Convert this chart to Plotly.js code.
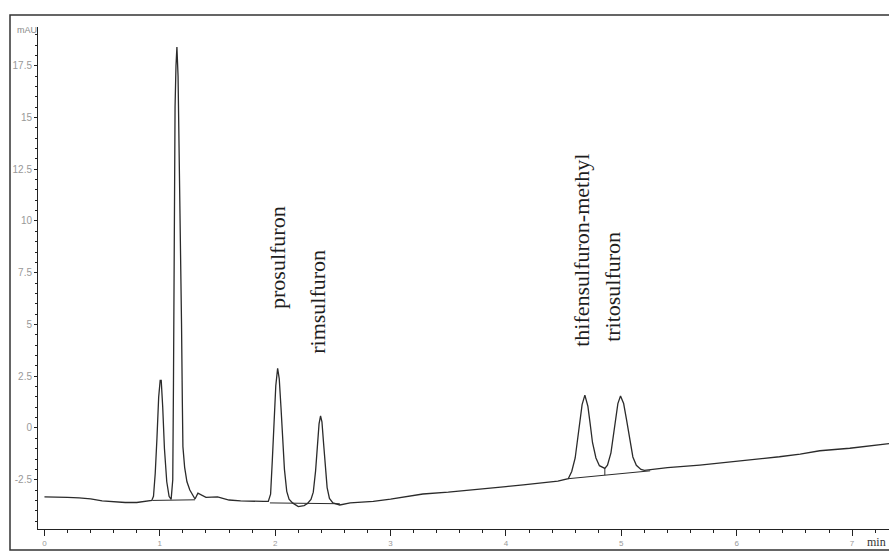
<!DOCTYPE html>
<html>
<head>
<meta charset="utf-8">
<script src="https://cdn.plot.ly/plotly-3.0.1.min.js"></script>
<style>html,body{margin:0;padding:0;background:#fff;}#chart{width:889px;height:552px;}</style>
</head>
<body>
<div id="chart"></div>
<script>
// Retention time (min) and detector signal (mAU)
const retentionTime = [
  0.00,0.10,0.20,0.30,0.40,0.50,0.60,0.70,0.80,0.90,
  0.930,0.945,0.960,0.975,0.990,1.003,1.012,1.025,1.040,1.060,1.080,1.098,
  1.112,1.118,1.125,1.132,1.140,1.148,1.158,1.168,1.180,1.188,1.195,1.200,
  1.215,1.235,1.260,1.290,1.305,1.330,1.360,1.400,1.500,1.600,1.700,1.800,1.900,
  1.940,1.960,1.975,1.990,2.005,2.021,2.035,2.050,2.065,2.080,2.100,2.120,2.150,
  2.200,2.250,2.280,2.310,2.330,2.350,2.365,2.380,2.393,2.405,2.420,2.435,2.450,2.470,2.500,
  2.560,2.650,2.750,2.850,3.000,3.150,3.280,3.500,3.710,3.850,4.000,4.150,4.290,4.450,
  4.540,4.570,4.600,4.620,4.640,4.660,4.684,4.710,4.730,4.750,4.780,4.810,4.857,
  4.880,4.910,4.930,4.950,4.970,4.993,5.020,5.045,5.070,5.100,5.130,5.170,5.200,
  5.300,5.400,5.680,6.110,6.370,6.550,6.720,6.980,7.240,7.320
];
const absorbance = [
  -3.33,-3.33,-3.35,-3.38,-3.42,-3.52,-3.57,-3.60,-3.60,-3.53,
  -3.50,-3.30,-2.20,-0.50,1.50,2.30,2.30,1.00,-1.00,-2.60,-3.30,-3.45,
  -2.50,2.00,10.6,15.5,17.5,18.4,17.0,13.6,8.5,5.0,1.3,-0.9,
  -1.9,-2.6,-3.0,-3.3,-3.43,-3.15,-3.25,-3.35,-3.33,-3.48,-3.52,-3.55,-3.55,
  -3.55,-3.20,-1.56,0.24,2.04,2.88,2.38,1.00,-0.66,-2.00,-3.06,-3.44,-3.62,
  -3.80,-3.75,-3.65,-3.45,-3.10,-2.07,-0.87,0.20,0.58,0.30,-0.80,-2.00,-2.88,-3.40,-3.62,
  -3.72,-3.62,-3.58,-3.55,-3.44,-3.30,-3.19,-3.10,-3.00,-2.92,-2.83,-2.75,-2.67,-2.57,
  -2.45,-2.10,-1.45,-0.66,0.30,1.13,1.59,1.05,0.20,-0.70,-1.45,-1.82,-1.95,
  -1.80,-1.20,-0.48,0.40,1.18,1.55,1.18,0.40,-0.52,-1.40,-1.80,-2.00,-2.05,
  -1.98,-1.92,-1.79,-1.55,-1.39,-1.26,-1.10,-0.98,-0.82,-0.76
];
// Integration baselines drawn under the peaks
const baselineTime = [0.935,1.305,null,1.954,2.560,null,4.540,5.250,null,4.857,4.857];
const baselineSignal = [-3.50,-3.47,null,-3.62,-3.66,null,-2.45,-2.07,null,-1.95,-2.28];
// Peak labels
const compoundNames = ["prosulfuron","rimsulfuron","thifensulfuron-methyl","tritosulfuron"];
const labelTimes = [2.024,2.370,4.658,4.918];
const labelSignals = [8.26,6.09,8.60,6.81];
const yTickValues = [-2.5,0,2.5,5,7.5,10,12.5,15,17.5];
const yTickLabels = ["-2.5","0","2.5","5","7.5","10","12.5","15","17.5"];
const xTickValues = [0,1,2,3,4,5,6,7];

const traces = [
  {x: retentionTime, y: absorbance, type: 'scatter', mode: 'lines',
   line: {color: '#2b2b2b', width: 1.3}, hoverinfo: 'skip'},
  {x: baselineTime, y: baselineSignal, type: 'scatter', mode: 'lines',
   line: {color: '#2b2b2b', width: 1}, connectgaps: false, hoverinfo: 'skip'}
];

const annotations = compoundNames.map((n, i) => ({
  x: labelTimes[i], y: labelSignals[i], xref: 'x', yref: 'y', text: n,
  showarrow: false, textangle: -90, xanchor: 'center', yanchor: 'middle',
  font: {family: 'Liberation Serif, Times New Roman, serif', size: 22, color: '#1e1e1e'}
}));
annotations.push({
  xref: 'paper', yref: 'paper', x: 0, y: 1, xanchor: 'right', yanchor: 'middle',
  yshift: -3, xshift: 1, text: 'mAU', showarrow: false,
  font: {family: 'Liberation Sans, Arial, sans-serif', size: 9, color: '#888'}
});
annotations.push({
  xref: 'paper', yref: 'paper', x: 1, y: 0, xanchor: 'right', yanchor: 'top',
  yshift: -4, xshift: -1, text: 'min', showarrow: false,
  font: {family: 'Liberation Serif, Times New Roman, serif', size: 12, color: '#333'}
});

const layout = {
  width: 889, height: 552,
  margin: {l: 38, r: 0, t: 27, b: 23, pad: 0},
  paper_bgcolor: '#fff', plot_bgcolor: '#fff',
  showlegend: false,
  xaxis: {
    range: [-0.056, 7.32], showgrid: false, zeroline: false,
    showline: true, linecolor: '#222', linewidth: 1,
    tickmode: 'array', tickvals: xTickValues, ticktext: xTickValues.map(String),
    ticks: 'outside', ticklen: 6, tickcolor: '#222', tickwidth: 1,
    minor: {dtick: 0.2, ticks: 'outside', ticklen: 3, tickcolor: '#222', tickwidth: 1, showgrid: false},
    tickfont: {family: 'Liberation Sans, Arial, sans-serif', size: 8, color: '#999'}
  },
  yaxis: {
    range: [-4.88, 19.37], showgrid: false, zeroline: false,
    showline: true, linecolor: '#222', linewidth: 1,
    tickmode: 'array', tickvals: yTickValues, ticktext: yTickLabels,
    ticks: 'outside', ticklen: 3, tickcolor: '#222', tickwidth: 1,
    minor: {dtick: 0.5, ticks: 'outside', ticklen: 2, tickcolor: '#222', tickwidth: 1, showgrid: false},
    tickfont: {family: 'Liberation Sans, Arial, sans-serif', size: 10, color: '#999'}
  },
  annotations: annotations,
  shapes: [
    {type: 'rect', xref: 'paper', yref: 'paper', x0: -0.0329, x1: 1.01, y0: -0.0418, y1: 1.0239,
     line: {color: '#333', width: 1.5}, fillcolor: 'rgba(0,0,0,0)', layer: 'above'}
  ]
};

Plotly.newPlot('chart', traces, layout, {displayModeBar: false, staticPlot: true});
</script>
</body>
</html>
